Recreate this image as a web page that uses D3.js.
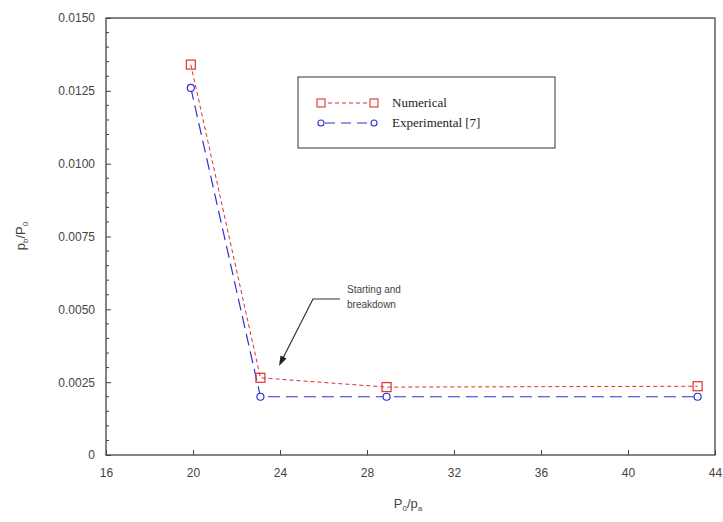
<!DOCTYPE html>
<html><head><meta charset="utf-8">
<script src="https://cdn.jsdelivr.net/npm/d3@7"></script>
<style>body{margin:0;background:#fff}svg{display:block}</style>
</head><body>
<svg id="c" width="723" height="522"></svg>
<script>
const numX = [19.9, 23.1, 28.9, 43.2];
const numY = [0.0134, 0.00265, 0.00233, 0.00236];
const expX = [19.9, 23.1, 28.9, 43.2];
const expY = [0.0126, 0.0020, 0.0020, 0.0020];
const xTicks = [16, 20, 24, 28, 32, 36, 40, 44];
const yTicks = [0, 0.0025, 0.005, 0.0075, 0.01, 0.0125, 0.015];
const yTickLabels = ["0", "0.0025", "0.0050", "0.0075", "0.0100", "0.0125", "0.0150"];
const seriesNames = ["Numerical", "Experimental [7]"];

const svg = d3.select("#c");
const L = 106, R = 715, T = 18, B = 455;
const x = d3.scaleLinear().domain([16, 44]).range([L, R]);
const y = d3.scaleLinear().domain([0, 0.015]).range([B, T]);
const axisCol = "#444";

// frame
svg.append("rect").attr("x", L).attr("y", T).attr("width", R - L).attr("height", B - T)
  .attr("fill", "none").attr("stroke", axisCol).attr("stroke-width", 1.3);

// x axis ticks (inward)
const gx = svg.append("g").attr("transform", `translate(0,${B})`)
  .call(d3.axisBottom(x).tickValues(xTicks).tickSize(-5).tickPadding(13).tickFormat(d3.format("d")));
gx.select(".domain").remove();
gx.selectAll("line").attr("stroke", axisCol);
gx.selectAll("text").attr("fill", "#444").attr("font-family", "Liberation Sans, Arial, sans-serif").attr("font-size", 12);

// y axis ticks (inward)
const gy = svg.append("g").attr("transform", `translate(${L},0)`)
  .call(d3.axisLeft(y).tickValues(yTicks).tickSize(-5).tickPadding(11).tickFormat((d, i) => yTickLabels[i]));
gy.select(".domain").remove();
gy.selectAll("line").attr("stroke", axisCol);
gy.selectAll("text").attr("fill", "#444").attr("font-family", "Liberation Sans, Arial, sans-serif").attr("font-size", 12);

// minor y ticks
const minor = d3.range(0, 0.0150001, 0.0005).filter(v => Math.abs(v / 0.0025 - Math.round(v / 0.0025)) > 1e-6);
svg.append("g").selectAll("line").data(minor).join("line")
  .attr("x1", L).attr("x2", L + 3).attr("y1", d => y(d)).attr("y2", d => y(d))
  .attr("stroke", axisCol).attr("stroke-width", 1);

// axis titles
svg.append("text").attr("x", 408).attr("y", 508).attr("text-anchor", "middle")
  .attr("font-family", "Liberation Sans, Arial, sans-serif").attr("font-size", 13).attr("fill", "#444")
  .html('P<tspan font-size="8" dy="3">0</tspan><tspan dy="-3">/p</tspan><tspan font-size="8" dy="3">a</tspan>');
svg.append("text").attr("transform", "translate(25,236) rotate(-90)").attr("text-anchor", "middle")
  .attr("font-family", "Liberation Sans, Arial, sans-serif").attr("font-size", 13).attr("fill", "#444")
  .html('p<tspan font-size="8" dy="3">b</tspan><tspan dy="-3">/P</tspan><tspan font-size="8" dy="3">0</tspan>');

const numCol = "#e03030", expCol = "#3030d8";
const line = d3.line().x(d => x(d[0])).y(d => y(d[1]));
const numData = numX.map((v, i) => [v, numY[i]]);
const expData = expX.map((v, i) => [v, expY[i]]);

svg.append("path").attr("d", line(expData)).attr("fill", "none").attr("stroke", expCol)
  .attr("stroke-width", 1.2).attr("stroke-dasharray", "12,6");
svg.append("path").attr("d", line(numData)).attr("fill", "none").attr("stroke", numCol)
  .attr("stroke-width", 1).attr("stroke-dasharray", "4,3");

svg.append("g").selectAll("circle").data(expData).join("circle")
  .attr("cx", d => x(d[0])).attr("cy", d => y(d[1])).attr("r", 3.5)
  .attr("fill", "#fff").attr("stroke", expCol).attr("stroke-width", 1.2);
svg.append("g").selectAll("rect").data(numData).join("rect")
  .attr("x", d => x(d[0]) - 4.5).attr("y", d => y(d[1]) - 4.5).attr("width", 9).attr("height", 9)
  .attr("fill", "none").attr("stroke", numCol).attr("stroke-width", 1.2);

// legend
const lg = svg.append("g");
lg.append("rect").attr("x", 298).attr("y", 77).attr("width", 257).attr("height", 71)
  .attr("fill", "#fff").attr("stroke", "#555").attr("stroke-width", 1.2);
const ly = [103, 123];
lg.append("line").attr("x1", 321).attr("x2", 374).attr("y1", ly[0]).attr("y2", ly[0])
  .attr("stroke", numCol).attr("stroke-dasharray", "4,3");
[321, 374].forEach(px => lg.append("rect").attr("x", px - 4).attr("y", ly[0] - 4).attr("width", 8).attr("height", 8)
  .attr("fill", "#fff").attr("stroke", numCol).attr("stroke-width", 1.1));
lg.append("line").attr("x1", 321).attr("x2", 374).attr("y1", ly[1]).attr("y2", ly[1])
  .attr("stroke", expCol).attr("stroke-dasharray", "10,6").attr("stroke-dashoffset", -4);
[321, 374].forEach(px => lg.append("circle").attr("cx", px).attr("cy", ly[1]).attr("r", 3)
  .attr("fill", "#fff").attr("stroke", expCol).attr("stroke-width", 1.1));
seriesNames.forEach((n, i) => lg.append("text").attr("x", 392).attr("y", ly[i] + 4)
  .attr("font-family", "Liberation Serif, Times New Roman, serif").attr("font-size", 13).attr("fill", "#222").text(n));

// annotation
const an = svg.append("g");
an.append("text").attr("x", 347).attr("y", 293).attr("font-family", "Liberation Sans, Arial, sans-serif")
  .attr("font-size", 10).attr("fill", "#444").text("Starting and");
an.append("text").attr("x", 347).attr("y", 308).attr("font-family", "Liberation Sans, Arial, sans-serif")
  .attr("font-size", 10).attr("fill", "#444").text("breakdown");
an.append("path").attr("d", "M340,299 L313,299 L282,360").attr("fill", "none").attr("stroke", "#333").attr("stroke-width", 1.2);
an.append("path").attr("d", "M279,366 L280.5,355.5 L286.5,358.5 Z").attr("fill", "#222");
</script>
</body></html>
